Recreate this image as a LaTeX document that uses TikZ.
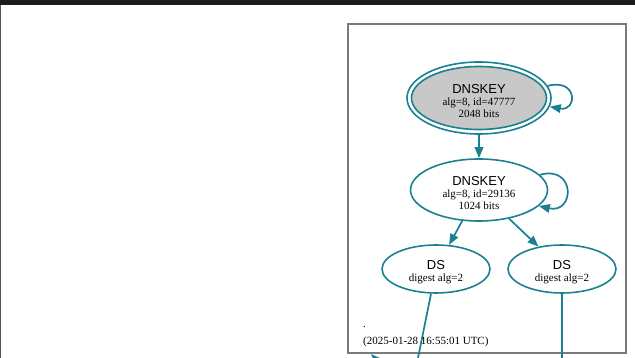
\documentclass[tikz,border=0pt]{standalone}
\usepackage{fontspec}
\setmainfont{Liberation Serif}
\newfontfamily\headfont{Liberation Sans}
\usetikzlibrary{arrows.meta,shapes.geometric}
\definecolor{edgeteal}{HTML}{1A8191}
\definecolor{keyfill}{HTML}{C8C8C8}
\definecolor{framegray}{HTML}{7A7A7A}
\definecolor{barblack}{HTML}{1C1C1C}
\tikzset{
  x=1pt, y=1pt,
  rr/.style={ellipse, draw=edgeteal, line width=1.6pt, inner sep=0pt},
  rrtext/.style={inner sep=0pt, align=center, font=\fontsize{11}{11.8}\selectfont},
  conn/.style={draw=edgeteal, line width=1.7pt,
    -{Triangle[length=11pt,width=8.5pt]}},
  plainconn/.style={draw=edgeteal, line width=1.7pt},
}
\newcommand{\headtxt}[1]{{\headfont\fontsize{13}{13}\selectfont #1}}
\begin{document}
\begin{tikzpicture}
  \useasboundingbox (0,0) rectangle (635,358);
  \fill[white] (0,0) rectangle (635,358);
  % window chrome
  \fill[barblack] (0,353) rectangle (635,358);
  \fill[framegray!70!black] (0,0) rectangle (1.2,353);
  % graph frame
  \draw[framegray, line width=1.2pt] (348,5) rectangle (626,334);

  % trust anchor key (double outline)
  \node[rr, minimum width=144pt, minimum height=72pt] (ksk-outer) at (479,260) {};
  \node[rr, fill=keyfill, minimum width=135pt, minimum height=63pt] (ksk) at (479,260) {};
  \node[rrtext] (ksk-txt) at ([yshift=-3pt]ksk.center)
    {\headtxt{DNSKEY}\\alg=8, id=47777\\2048 bits};

  % zone signing key
  \node[rr, minimum width=137pt, minimum height=62pt] (zsk) at (479,168) {};
  \node[rrtext] (zsk-txt) at ([yshift=-3pt]zsk.center)
    {\headtxt{DNSKEY}\\alg=8, id=29136\\1024 bits};

  % delegation signer records
  \node[rr, minimum width=108pt, minimum height=48pt] (ds1) at (436,89) {};
  \node[rrtext] (ds1-txt) at ([yshift=-3.5pt]ds1.center) {\headtxt{DS}\\digest alg=2};
  \node[rr, minimum width=108pt, minimum height=48pt] (ds2) at (562,89) {};
  \node[rrtext] (ds2-txt) at ([yshift=-3.5pt]ds2.center) {\headtxt{DS}\\digest alg=2};

  % self-signatures
  \draw[conn] (ksk-outer.10) .. controls +(30,8) and +(28,-5) .. (ksk-outer.-7);
  \draw[conn] (zsk.14) .. controls +(36,10) and +(36,-8) .. (zsk.-15);

  % signing / digest edges
  \draw[conn] (ksk-outer) -- (zsk);
  \draw[conn] (zsk) -- (ds1);
  \draw[conn] (zsk) -- (ds2);

  % edges leaving the frame downward
  \coordinate (ds1-out) at (416,-10);
  \coordinate (ds2-out) at (562,-10);
  \draw[plainconn] (ds1) -- (ds1-out);
  \draw[plainconn] (ds2) -- (ds2-out);
  \coordinate (in-tail) at (392,-18);
  \coordinate (in-tip) at (371,4);
  \draw[conn] (in-tail) -- (in-tip);

  % footer
  \node[anchor=base west, inner sep=0pt, font=\fontsize{11}{11}\selectfont] (dot) at (363,30) {.};
  \node[anchor=base west, inner sep=0pt, font=\fontsize{11}{11}\selectfont] (stamp) at (363,13.5)
    {(2025-01-28 16:55:01 UTC)};
\end{tikzpicture}
\end{document}
